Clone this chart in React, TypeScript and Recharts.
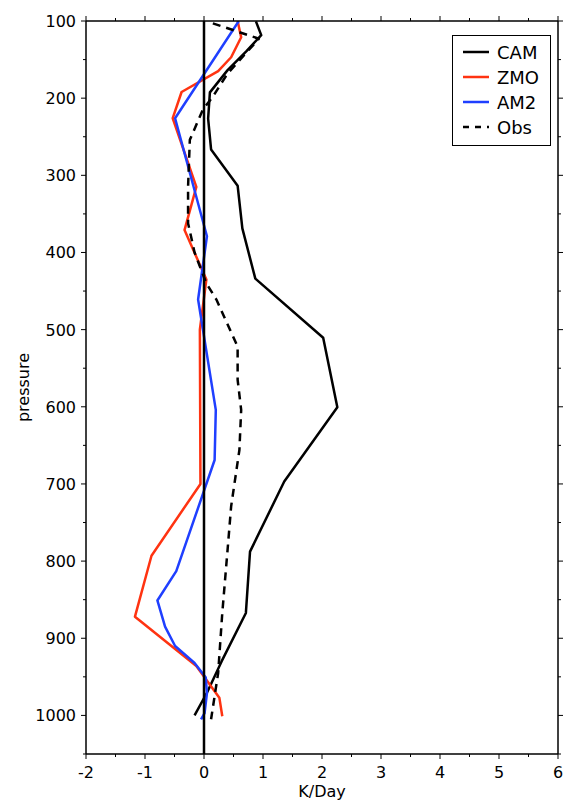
import React from 'react';
import { LineChart, Line, XAxis, YAxis, ReferenceLine } from 'recharts';

// pressure levels (hPa) and heating rates (K/Day)
const camP = [100.5, 118.3, 139.1, 163.7, 192.5, 226.5, 266.5, 313.5, 368.8, 433.9, 510.5, 600.5, 696.8, 787.7, 867.2, 929.7, 970.6, 1000];
const camK = [0.88, 0.97, 0.72, 0.4, 0.1, 0.07, 0.12, 0.57, 0.65, 0.87, 2.02, 2.26, 1.36, 0.78, 0.71, 0.3, 0.05, -0.16];

const zmoP = [100, 121, 147, 165, 192, 226, 315, 371, 435, 500, 700, 793, 872, 936, 977, 1001];
const zmoK = [0.57, 0.63, 0.46, 0.24, -0.38, -0.53, -0.13, -0.33, 0.04, -0.07, -0.06, -0.89, -1.17, -0.13, 0.26, 0.31];

const am2P = [100, 226, 379, 461, 604, 669, 813, 851, 885, 910, 932, 951, 971, 997, 1005];
const am2K = [0.59, -0.49, 0.05, -0.1, 0.2, 0.18, -0.47, -0.79, -0.66, -0.49, -0.16, 0.03, 0.05, 0.01, -0.05];

const obsP = [103, 123, 168, 198, 215, 254, 315, 362, 400, 440, 461, 522, 565, 604, 656, 729, 785, 867, 945, 1005];
const obsK = [0.15, 0.93, 0.4, 0.15, -0.02, -0.24, -0.27, -0.27, -0.16, 0.04, 0.21, 0.57, 0.57, 0.63, 0.6, 0.46, 0.4, 0.31, 0.24, 0.12];

const xTicks = [-2, -1.5, -1, -0.5, 0, 0.5, 1, 1.5, 2, 2.5, 3, 3.5, 4, 4.5, 5, 5.5, 6];
const yTicks = [100, 150, 200, 250, 300, 350, 400, 450, 500, 550, 600, 650, 700, 750, 800, 850, 900, 950, 1000, 1050];

const toRows = (p: number[], k: number[]) => p.map((v, i) => ({ p: v, k: k[i] }));

const series = [
  { name: 'CAM', color: '#000000', dash: undefined, rows: toRows(camP, camK) },
  { name: 'ZMO', color: '#ff3311', dash: undefined, rows: toRows(zmoP, zmoK) },
  { name: 'AM2', color: '#1f3fff', dash: undefined, rows: toRows(am2P, am2K) },
  { name: 'Obs', color: '#000000', dash: '8 6', rows: toRows(obsP, obsK) },
];

const FONT = 'DejaVu Sans';

function BottomTick({ x, y, payload }: any) {
  const major = Number.isInteger(payload.value);
  return (
    <g>
      <line x1={x} x2={x} y1={y} y2={y + (major ? 5 : 3)} stroke="#000" strokeWidth={1} />
      {major && (
        <text x={x} y={y + 24} textAnchor="middle" fontFamily={FONT} fontSize={16} fill="#000">
          {payload.value}
        </text>
      )}
    </g>
  );
}

function TopTick({ x, y, payload }: any) {
  const major = Number.isInteger(payload.value);
  return <line x1={x} x2={x} y1={y} y2={y - (major ? 5 : 3)} stroke="#000" strokeWidth={1} />;
}

function LeftTick({ x, y, payload }: any) {
  const major = payload.value % 100 === 0;
  return (
    <g>
      <line x1={x} x2={x - (major ? 5 : 3)} y1={y} y2={y} stroke="#000" strokeWidth={1} />
      {major && (
        <text x={x - 10} y={y + 6} textAnchor="end" fontFamily={FONT} fontSize={16} fill="#000">
          {payload.value}
        </text>
      )}
    </g>
  );
}

function RightTick({ x, y, payload }: any) {
  const major = payload.value % 100 === 0;
  return <line x1={x} x2={x + (major ? 5 : 3)} y1={y} y2={y} stroke="#000" strokeWidth={1} />;
}

function LegendBox() {
  return (
    <svg
      width={99}
      height={111}
      style={{ position: 'absolute', left: 452, top: 35, background: '#fff' }}
    >
      <rect x={0.5} y={0.5} width={98} height={110} fill="#fff" stroke="#000" strokeWidth={1} />
      {series.map((s, i) => (
        <g key={s.name}>
          <line
            x1={11}
            x2={37}
            y1={17 + i * 25}
            y2={17 + i * 25}
            stroke={s.color}
            strokeWidth={2.5}
            strokeDasharray={s.dash ? '6 6' : undefined}
          />
          <text x={45} y={17 + i * 25 + 6.5} fontFamily={FONT} fontSize={18} fill="#000">
            {s.name}
          </text>
        </g>
      ))}
    </svg>
  );
}

export default function App() {
  const axisStroke = { stroke: '#000', strokeWidth: 1.5 };
  return (
    <div style={{ position: 'absolute', left: 0, top: 0, width: 564, height: 800, background: '#fff' }}>
      <LineChart width={564} height={800} margin={{ top: 20, right: 5, bottom: 0, left: 0 }}>
        <XAxis
          xAxisId="b"
          type="number"
          dataKey="k"
          domain={[-2, 6]}
          ticks={xTicks}
          interval={0}
          height={46}
          tickSize={0}
          tickMargin={0}
          axisLine={axisStroke}
          tickLine={false}
          tick={<BottomTick />}
          allowDataOverflow
          label={(props: any) => {
            const vb = props.viewBox;
            return (
              <text x={vb.x + vb.width / 2} y={797} textAnchor="middle" fontFamily={FONT} fontSize={16} fill="#000">
                K/Day
              </text>
            );
          }}
        />
        <XAxis
          xAxisId="t"
          orientation="top"
          type="number"
          dataKey="k"
          domain={[-2, 6]}
          ticks={xTicks}
          interval={0}
          height={1}
          tickSize={0}
          tickMargin={0}
          axisLine={axisStroke}
          tickLine={false}
          tick={<TopTick />}
          allowDataOverflow
        />
        <YAxis
          yAxisId="l"
          type="number"
          domain={[100, 1050]}
          reversed
          ticks={yTicks}
          interval={0}
          width={86}
          tickSize={0}
          tickMargin={0}
          axisLine={axisStroke}
          tickLine={false}
          tick={<LeftTick />}
          allowDataOverflow
          label={(props: any) => {
            const vb = props.viewBox;
            const cy = vb.y + vb.height / 2;
            return (
              <text
                x={29}
                y={cy}
                transform={`rotate(-90 29 ${cy})`}
                textAnchor="middle"
                fontFamily={FONT}
                fontSize={16}
                fill="#000"
              >
                pressure
              </text>
            );
          }}
        />
        <YAxis
          yAxisId="r"
          orientation="right"
          type="number"
          domain={[100, 1050]}
          reversed
          ticks={yTicks}
          interval={0}
          width={1}
          tickSize={0}
          tickMargin={0}
          axisLine={axisStroke}
          tickLine={false}
          tick={<RightTick />}
          allowDataOverflow
        />
        {series.map((s) => (
          <Line
            key={s.name}
            xAxisId="b"
            yAxisId="l"
            data={s.rows}
            dataKey="p"
            type="linear"
            stroke={s.color}
            strokeWidth={2.5}
            strokeDasharray={s.dash}
            strokeLinejoin="round"
            dot={false}
            activeDot={false}
            isAnimationActive={false}
          />
        ))}
        <ReferenceLine xAxisId="b" yAxisId="l" x={0} stroke="#000" strokeWidth={2.5} />
      </LineChart>
      <LegendBox />
    </div>
  );
}
